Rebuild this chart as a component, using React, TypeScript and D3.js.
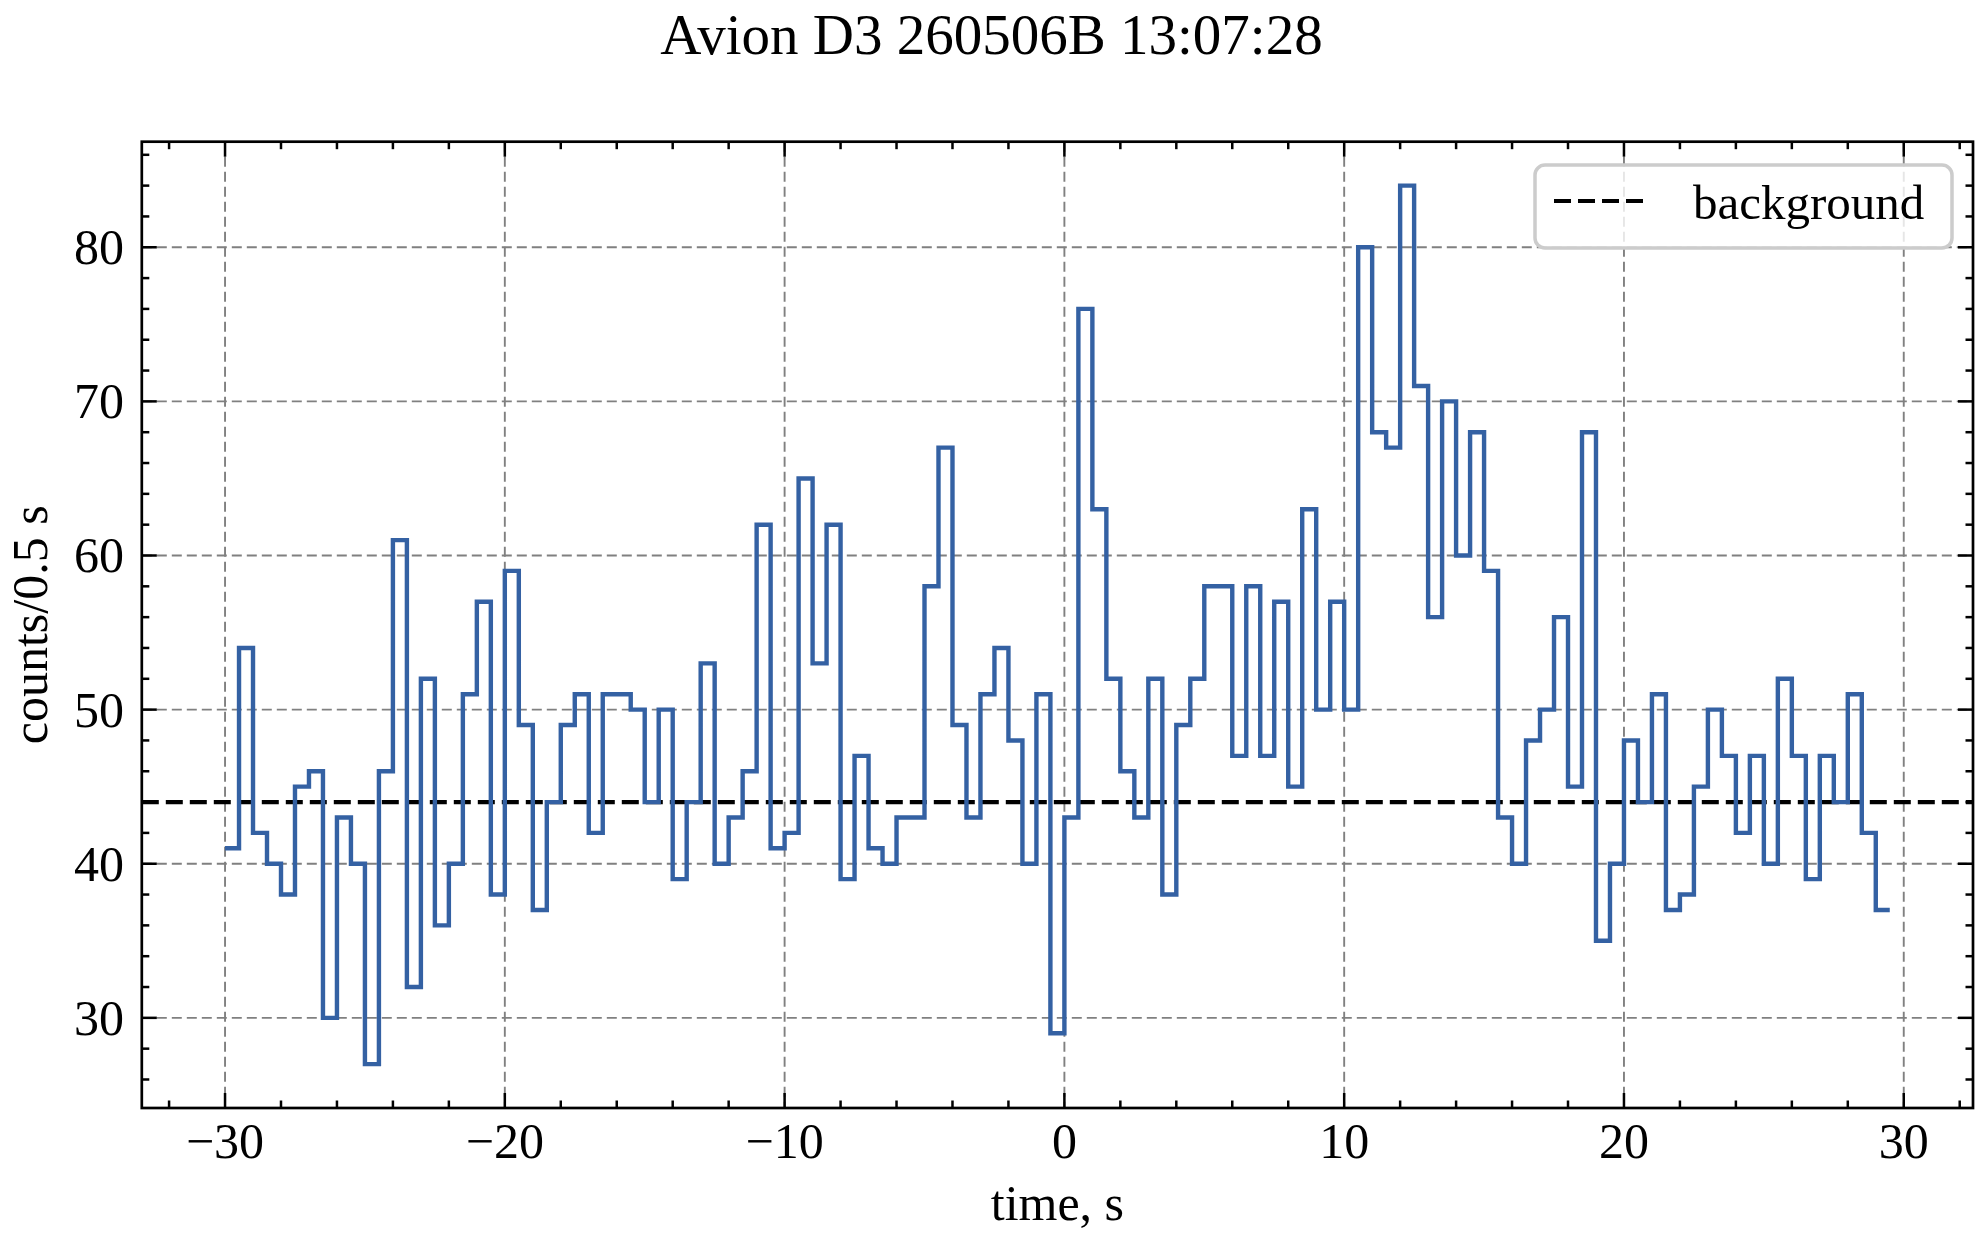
import React from "react";
import * as d3 from "d3";

// ---- data ----
const binStart = -30; // first bin start, s
const binWidth = 0.5; // s
const counts = [
  41, 54, 42, 40, 38, 45, 46, 30, 43, 40, 27, 46, 61, 32, 52, 36, 40, 51, 57, 38,
  59, 49, 37, 44, 49, 51, 42, 51, 51, 50, 44, 50, 39, 44, 53, 40, 43, 46, 62, 41,
  42, 65, 53, 62, 39, 47, 41, 40, 43, 43, 58, 67, 49, 43, 51, 54, 48, 40, 51, 29,
  43, 76, 63, 52, 46, 43, 52, 38, 49, 52, 58, 58, 47, 58, 47, 57, 45, 63, 50, 57,
  50, 80, 68, 67, 84, 71, 56, 70, 60, 68, 59, 43, 40, 48, 50, 56, 45, 68, 35, 40,
  48, 44, 51, 37, 38, 45, 50, 47, 42, 47, 40, 52, 47, 39, 47, 44, 51, 42, 37,
];
const backgroundLevel = 44;
const xMajorTicks = [-30, -20, -10, 0, 10, 20, 30];
const yMajorTicks = [30, 40, 50, 60, 70, 80];
const titleText = "Avion D3 260506B 13:07:28";
const xLabelText = "time, s";
const yLabelText = "counts/0.5 s";
const legendLabel = "background";

const W = 1983;
const H = 1236;
const FONT = "'Liberation Serif', 'DejaVu Serif', serif";

export default function App() {
  const left = 141.8;
  const right = 1973;
  const top = 141.7;
  const bottom = 1108;

  const times = counts.map((_, i) => binStart + i * binWidth);
  const tEnd = binStart + counts.length * binWidth;
  const tMin = binStart;
  const vMin = d3.min(counts)!;
  const vMax = d3.max(counts)!;
  const xPad = (tEnd - tMin) * 0.05;
  const yPad = (vMax - vMin) * 0.05;

  const x = d3.scaleLinear().domain([tMin - xPad, tEnd + xPad]).range([left, right]);
  const y = d3.scaleLinear().domain([vMin - yPad, vMax + yPad]).range([bottom, top]);

  const pts: [number, number][] = times.map((t, i) => [t, counts[i]]);
  pts.push([tEnd, counts[counts.length - 1]]);
  const stepPath = d3
    .line<[number, number]>()
    .x((d) => x(d[0]))
    .y((d) => y(d[1]))
    .curve(d3.curveStepAfter)(pts)!;

  const [xd0, xd1] = x.domain();
  const [yd0, yd1] = y.domain();
  const xMinor = d3.range(Math.ceil(xd0 / 2) * 2, xd1, 2).filter((v) => v % 10 !== 0);
  const yMinor = d3.range(Math.ceil(yd0 / 2) * 2, yd1, 2).filter((v) => v % 10 !== 0);

  const fs = 50;
  const majorLen = 15;
  const minorLen = 7.5;
  const tickW = 2.5;
  const gridColor = "#808080";
  const lineColor = "#3461a3";

  return (
    <svg
      width={W}
      height={H}
      viewBox={`0 0 ${W} ${H}`}
      style={{ position: "absolute", left: 0, top: 0, background: "#fff" }}
      fontFamily={FONT}
    >
      <rect x={0} y={0} width={W} height={H} fill="#fff" />
      {/* grid */}
      <g stroke={gridColor} strokeWidth={1.9} strokeDasharray="10,5">
        {xMajorTicks.map((t) => (
          <line key={"gx" + t} x1={x(t)} x2={x(t)} y1={top} y2={bottom} />
        ))}
        {yMajorTicks.map((t) => (
          <line key={"gy" + t} x1={left} x2={right} y1={y(t)} y2={y(t)} />
        ))}
      </g>
      {/* background level */}
      <line
        x1={left}
        x2={right}
        y1={y(backgroundLevel)}
        y2={y(backgroundLevel)}
        stroke="#000"
        strokeWidth={4.2}
        strokeDasharray="17,7"
      />
      {/* light curve */}
      <path d={stepPath} fill="none" stroke={lineColor} strokeWidth={4.4} strokeLinejoin="miter" />

      {/* ticks (inward, all sides) */}
      <g stroke="#000" strokeWidth={tickW}>
        {xMajorTicks.map((t) => (
          <g key={"xt" + t}>
            <line x1={x(t)} x2={x(t)} y1={bottom} y2={bottom - majorLen} />
            <line x1={x(t)} x2={x(t)} y1={top} y2={top + majorLen} />
          </g>
        ))}
        {xMinor.map((t) => (
          <g key={"xm" + t}>
            <line x1={x(t)} x2={x(t)} y1={bottom} y2={bottom - minorLen} />
            <line x1={x(t)} x2={x(t)} y1={top} y2={top + minorLen} />
          </g>
        ))}
        {yMajorTicks.map((t) => (
          <g key={"yt" + t}>
            <line x1={left} x2={left + majorLen} y1={y(t)} y2={y(t)} />
            <line x1={right} x2={right - majorLen} y1={y(t)} y2={y(t)} />
          </g>
        ))}
        {yMinor.map((t) => (
          <g key={"ym" + t}>
            <line x1={left} x2={left + minorLen} y1={y(t)} y2={y(t)} />
            <line x1={right} x2={right - minorLen} y1={y(t)} y2={y(t)} />
          </g>
        ))}
      </g>
      {/* spines */}
      <rect
        x={left}
        y={top}
        width={right - left}
        height={bottom - top}
        fill="none"
        stroke="#000"
        strokeWidth={2.7}
      />

      {/* tick labels */}
      <g fontSize={fs} fill="#000">
        {xMajorTicks.map((t) => (
          <text key={"xl" + t} x={x(t)} y={1158} textAnchor="middle">
            {t < 0 ? "\u2212" + Math.abs(t) : String(t)}
          </text>
        ))}
        {yMajorTicks.map((t) => (
          <text key={"yl" + t} x={124} y={y(t)} dy="0.34em" textAnchor="end">
            {String(t)}
          </text>
        ))}
      </g>

      {/* axis labels */}
      <text x={(left + right) / 2} y={1220} fontSize={fs} textAnchor="middle" fill="#000">
        {xLabelText}
      </text>
      <text
        transform={`translate(47, ${(top + bottom) / 2}) rotate(-90)`}
        fontSize={fs}
        textAnchor="middle"
        fill="#000"
      >
        {yLabelText}
      </text>

      {/* title */}
      <text x={W / 2} y={54} fontSize={57} textAnchor="middle" fill="#000">
        {titleText}
      </text>

      {/* legend */}
      <g>
        <rect
          x={1535}
          y={165}
          width={417}
          height={83}
          rx={10}
          ry={10}
          fill="#fff"
          fillOpacity={0.8}
          stroke="#cccccc"
          strokeWidth={3.5}
        />
        <line x1={1554} x2={1648} y1={201} y2={201} stroke="#000" strokeWidth={4.2} strokeDasharray="17,7" />
        <text x={1693} y={219} fontSize={49} fill="#000">
          {legendLabel}
        </text>
      </g>
    </svg>
  );
}
